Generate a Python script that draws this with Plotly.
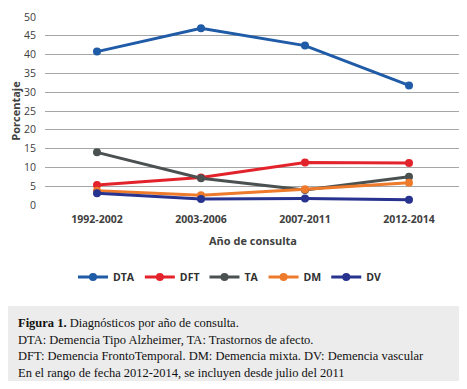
import plotly.graph_objects as go

periods = ["1992-2002", "2003-2006", "2007-2011", "2012-2014"]
dta = [40.8, 47.0, 42.4, 31.8]
dft = [5.3, 7.3, 11.3, 11.2]
ta = [14.0, 7.1, 4.0, 7.5]
dm = [3.8, 2.6, 4.2, 5.9]
dv = [3.1, 1.6, 1.7, 1.4]

series = [
    ("DTA", dta, "#1f5ba6"),
    ("DFT", dft, "#e3232b"),
    ("TA", ta, "#4b5050"),
    ("DM", dm, "#ee7a2c"),
    ("DV", dv, "#27338f"),
]

yticks = [0, 5, 10, 15, 20, 25, 30, 35, 40, 45, 50]

fig = go.Figure()
for name, vals, col in series:
    fig.add_trace(go.Scatter(
        x=periods, y=vals, name=name, mode="lines+markers",
        line=dict(color=col, width=3),
        marker=dict(color=col, size=8, symbol="circle"),
    ))

# page body has an 8px default margin; work in reference pixels and offset
OFF = 8
W, H = 467 - OFF, 389 - OFF
L, R, T, B = 45 - OFF, 6, 17 - OFF, 184
pw, ph = W - L - R, H - T - B

def px(x):
    return (x - OFF - L) / pw

def py(y):
    return (H - B - (y - OFF)) / ph

sans = "Open Sans, DejaVu Sans, sans-serif"

fig.update_layout(
    width=W, height=H,
    margin=dict(l=L, r=R, t=T, b=B, autoexpand=False),
    paper_bgcolor="white", plot_bgcolor="white",
    showlegend=True,
    legend=dict(orientation="h", x=px(230), xanchor="center", y=py(277), yanchor="middle",
                font=dict(family=sans, size=10.5, color="#303030", weight="bold"),
                itemwidth=30, tracegroupgap=0, bgcolor="rgba(0,0,0,0)"),
    xaxis=dict(type="category", range=[-0.5, 3.5], showgrid=False, zeroline=False, showline=False,
               ticks="", ticklabelstandoff=6, automargin=False,
               tickfont=dict(family=sans, size=10.5, color="#404040", weight="bold"),
               title=dict(text="Año de consulta", standoff=12,
                          font=dict(family=sans, size=11, color="#404040", weight="bold"))),
    yaxis=dict(range=[0, 50], tickvals=yticks, showgrid=True, gridcolor="#a6a6a6", gridwidth=1,
               zeroline=False, showline=False, ticks="", automargin=False,
               tickfont=dict(family=sans, size=10.5, color="#404040"), ticklabelstandoff=8,
               title=dict(text="Porcentaje", standoff=6,
                          font=dict(family=sans, size=11, color="#404040", weight="bold"))),
)

# caption box
fig.add_shape(type="rect", xref="paper", yref="paper",
              x0=px(5), x1=px(463), y0=py(381), y1=py(306),
              fillcolor="#ececec", line=dict(width=0), layer="below")

serif = "Liberation Serif, Times New Roman, serif"
lines = [
    (323, "<b>Figura 1.</b> Diagnósticos por año de consulta."),
    (340, "DTA: Demencia Tipo Alzheimer, TA: Trastornos de afecto."),
    (356, "DFT: Demencia FrontoTemporal. DM: Demencia mixta. DV: Demencia vascular"),
    (373, "En el rango de fecha 2012-2014, se incluyen desde julio del 2011"),
]
for yy, txt in lines:
    fig.add_annotation(xref="paper", yref="paper", x=px(16), y=py(yy),
                       xanchor="left", yanchor="middle", showarrow=False,
                       text=txt, font=dict(family=serif, size=12.5, color="#111111"))

fig.write_html("out.html")
